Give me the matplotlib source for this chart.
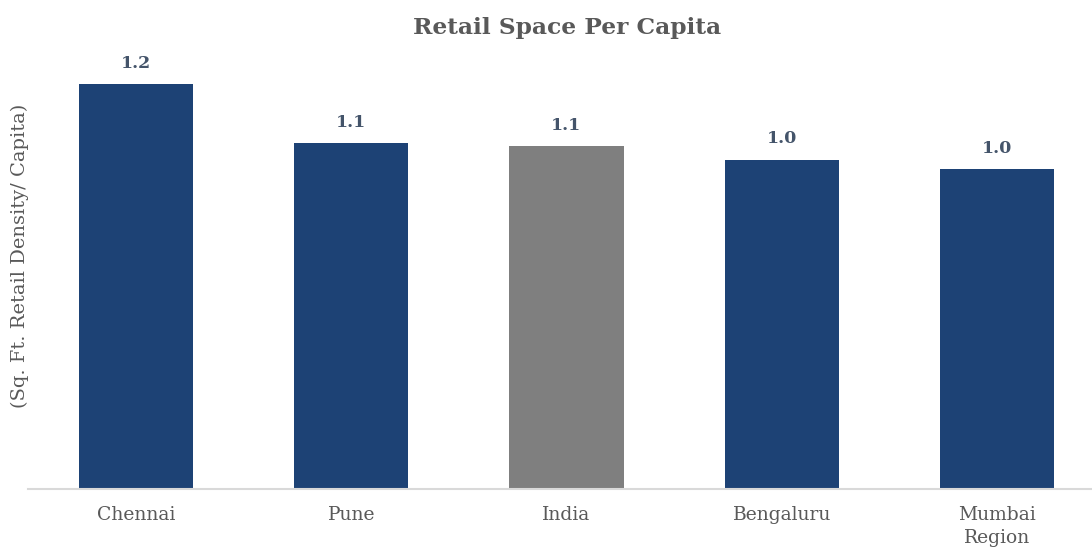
import matplotlib
matplotlib.use("Agg")
import matplotlib.pyplot as plt

categories = ["Chennai", "Pune", "India", "Bengaluru", "Mumbai\nRegion"]
values = [1.24, 1.06, 1.05, 1.01, 0.98]
bar_colors = ["#1D4275", "#1D4275", "#7F7F7F", "#1D4275", "#1D4275"]

serif = ["DejaVu Serif"]
fig = plt.figure(figsize=(10.92, 5.48), dpi=100)
ax = fig.add_axes([0.026, 0.1068, 0.9855, 0.775])

x = range(len(categories))
bars = ax.bar(x, values, width=0.53, color=bar_colors, zorder=2)

for xi, v in zip(x, values):
    ax.annotate(f"{v:.1f}", (xi, v), xytext=(0, 9), textcoords="offset points",
                ha="center", va="bottom", fontsize=12.5, fontweight="bold",
                color="#44546A", family=serif)

ax.set_xlim(-0.5, len(categories) - 0.5)
ax.set_ylim(0, 1.3)
ax.set_xticks(list(x))
ax.set_xticklabels(categories, fontsize=13.5, color="#595959", family=serif,
                   linespacing=1.35)
ax.tick_params(axis="x", length=0, pad=12)
ax.set_yticks([])
for side in ["top", "right", "left"]:
    ax.spines[side].set_visible(False)
ax.spines["bottom"].set_color("#D9D9D9")
ax.spines["bottom"].set_linewidth(1.5)

fig.text(0.018, 0.533, "(Sq. Ft. Retail Density/ Capita)", rotation=90,
         ha="center", va="center", fontsize=14, color="#595959", family=serif)
fig.text(0.519, 0.948, "Retail Space Per Capita", ha="center", va="center",
         fontsize=16.8, fontweight="bold", color="#595959", family=serif)

fig.savefig("out.png", dpi=100)
